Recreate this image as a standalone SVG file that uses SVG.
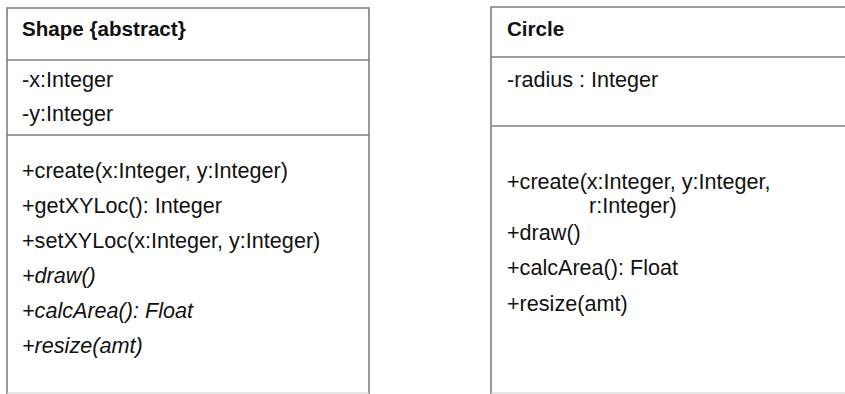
<svg xmlns="http://www.w3.org/2000/svg" width="845" height="394" viewBox="0 0 845 394">
<style>
.box{fill:#fff;stroke:#7f7f7f;stroke-width:1.6}
.sep{stroke:#7f7f7f;stroke-width:1.6}
.bot{stroke:#d0d0d0;stroke-width:1.2}
text{font-family:"Liberation Sans",Arial,sans-serif;font-size:21.6px;fill:#111}
.b{font-weight:bold;font-size:20.6px}
.i{font-style:italic}
</style>
<rect width="845" height="394" fill="#fff"/>
<g id="shape">
<path class="box" d="M7,395 V8 H369 V395"/>
<line class="sep" x1="7" y1="60" x2="369" y2="60"/>
<line class="sep" x1="7" y1="135" x2="369" y2="135"/>
<line class="bot" x1="7" y1="393" x2="369" y2="393"/>
<text class="b" x="22" y="36">Shape {abstract}</text>
<text x="22" y="87">-x:Integer</text>
<text x="22" y="121">-y:Integer</text>
<text x="22" y="178">+create(x:Integer, y:Integer)</text>
<text x="22" y="213">+getXYLoc(): Integer</text>
<text x="22" y="248">+setXYLoc(x:Integer, y:Integer)</text>
<text class="i" x="22" y="283">+draw()</text>
<text class="i" x="22" y="318">+calcArea(): Float</text>
<text class="i" x="22" y="353">+resize(amt)</text>
</g>
<g id="circle">
<path class="box" d="M491,395 V7 H850"/>
<line class="sep" x1="491" y1="57" x2="850" y2="57"/>
<line class="sep" x1="491" y1="126" x2="850" y2="126"/>
<line class="bot" x1="491" y1="393" x2="850" y2="393"/>
<text class="b" x="507" y="36">Circle</text>
<text x="507" y="87">-radius : Integer</text>
<text x="507" y="189">+create(x:Integer, y:Integer,<tspan x="589" y="213">r:Integer)</tspan></text>
<text x="507" y="240">+draw()</text>
<text x="507" y="275">+calcArea(): Float</text>
<text x="507" y="311">+resize(amt)</text>
</g>
<g id="connectors"/>
</svg>
